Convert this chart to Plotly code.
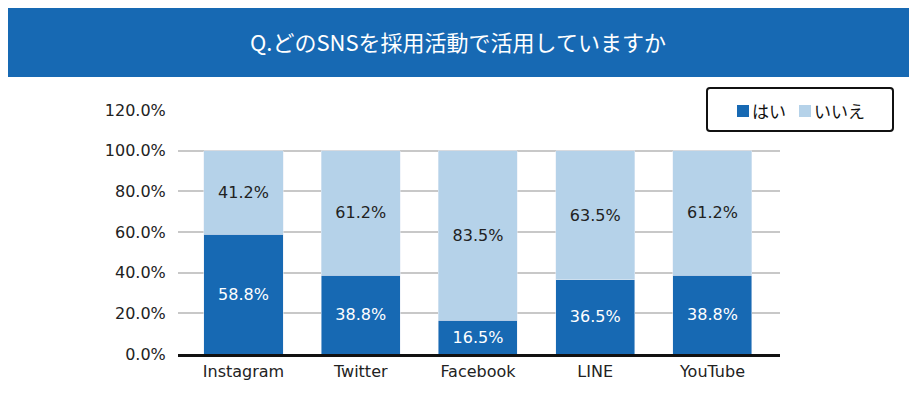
import plotly.graph_objects as go

categories = ["Instagram", "Twitter", "Facebook", "LINE", "YouTube"]
yes_values = [58.8, 38.8, 16.5, 36.5, 38.8]
no_values = [41.2, 61.2, 83.5, 63.5, 61.2]
series_names = ["はい", "いいえ"]
y_tick_values = [0, 20, 40, 60, 80, 100, 120]
title_text = "Q.どのSNSを採用活動で活用していますか"

DARK = "#1769B3"
LIGHT = "#B5D2E9"
OFF = 8  # page body margin
W, H = 917 - OFF, 418 - OFF
L, R, T, B = 178 - OFF, 780 - OFF, 110 - OFF, 354 - OFF


def px(x):
    return (x - OFF - L) / (R - L)


def py(y):
    return (B - (y - OFF)) / (B - T)


def path_from(points):
    s = ""
    for cmd, pts in points:
        s += cmd + " ".join(f"{px(a):.5f},{py(b):.5f}" for a, b in pts)
    return s + " Z"


FONT = "DejaVu Sans, Noto Sans CJK JP, sans-serif"

fig = go.Figure()
fig.add_trace(go.Bar(
    x=categories, y=yes_values, name=series_names[0], marker_color=DARK,
    width=0.674, text=[f"{v:.1f}%" for v in yes_values],
    textposition="inside", insidetextanchor="middle", textangle=0,
    textfont=dict(color="white", size=16, family=FONT),
    hoverinfo="skip",
))
fig.add_trace(go.Bar(
    x=categories, y=no_values, name=series_names[1], marker_color=LIGHT,
    width=0.674, text=[f"{v:.1f}%" for v in no_values],
    textposition="inside", insidetextanchor="middle", textangle=0,
    textfont=dict(color="#222222", size=16, family=FONT),
    hoverinfo="skip",
))

# banner with rounded top corners
banner = path_from([
    ("M", [(4, 77)]), ("L", [(4, 12)]), ("Q", [(4, 3), (13, 3)]),
    ("L", [(904, 3)]), ("Q", [(913, 3), (913, 12)]), ("L", [(913, 77)]),
])
shapes = [dict(type="path", path=banner, xref="paper", yref="paper",
               fillcolor=DARK, line=dict(width=0), layer="below")]

# legend box
lb = path_from([
    ("M", [(710, 88)]), ("L", [(890, 88)]), ("Q", [(893, 88), (893, 91)]),
    ("L", [(893, 128)]), ("Q", [(893, 131), (890, 131)]), ("L", [(710, 131)]),
    ("Q", [(707, 131), (707, 128)]), ("L", [(707, 91)]), ("Q", [(707, 88), (710, 88)]),
])
shapes.append(dict(type="path", path=lb, xref="paper", yref="paper",
                   fillcolor="white", line=dict(width=2, color="#111111"), layer="above"))
shapes.append(dict(type="rect", xref="paper", yref="paper",
                   x0=px(737), x1=px(749), y0=py(117), y1=py(105),
                   fillcolor=DARK, line=dict(width=0), layer="above"))
shapes.append(dict(type="rect", xref="paper", yref="paper",
                   x0=px(799), x1=px(811), y0=py(117), y1=py(105),
                   fillcolor=LIGHT, line=dict(width=0), layer="above"))

annotations = [
    dict(text=title_text, xref="paper", yref="paper", x=px(458), y=py(41),
         xanchor="center", yanchor="middle", showarrow=False,
         font=dict(family="Noto Sans CJK JP", size=22, color="white")),
    dict(text=series_names[0], xref="paper", yref="paper", x=px(750), y=py(111),
         xanchor="left", yanchor="middle", showarrow=False,
         font=dict(family="Noto Sans CJK JP", size=17, color="#111111")),
    dict(text=series_names[1], xref="paper", yref="paper", x=px(812), y=py(111),
         xanchor="left", yanchor="middle", showarrow=False,
         font=dict(family="Noto Sans CJK JP", size=17, color="#111111")),
]

fig.update_layout(
    width=W, height=H, autosize=False,
    margin=dict(l=L, r=W - R, t=T, b=H - B, pad=0),
    paper_bgcolor="white", plot_bgcolor="white",
    barmode="stack", showlegend=False,
    shapes=shapes, annotations=annotations,
    uniformtext=dict(minsize=16, mode="show"),
    font=dict(family=FONT, size=16, color="#222222"),
)
fig.update_xaxes(
    type="category", range=[-0.5586, 4.576],
    showline=True, linecolor="#111111", linewidth=2.5,
    showgrid=False, ticks="outside", ticklen=1, tickcolor="rgba(0,0,0,0)",
    tickfont=dict(family=FONT, size=16, color="#222222"),
)
fig.update_yaxes(
    range=[0, 120], tickvals=y_tick_values,
    ticktext=[f"{v:.1f}%" for v in y_tick_values],
    showgrid=True, gridcolor="#C8C8C8", gridwidth=2,
    zeroline=False, showline=False,
    ticks="outside", ticklen=8, tickcolor="rgba(0,0,0,0)",
    tickfont=dict(family=FONT, size=16, color="#222222"),
)

fig.write_html("out.html")
